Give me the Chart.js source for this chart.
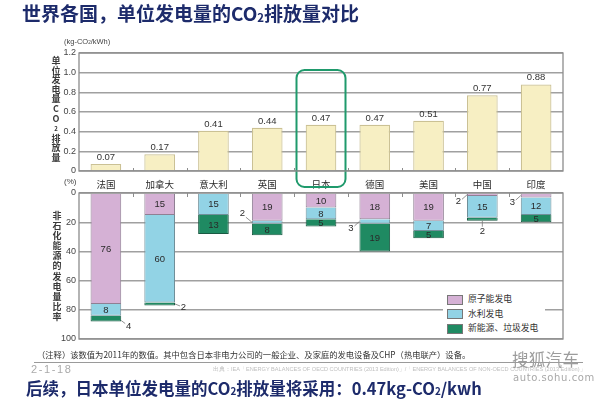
<!DOCTYPE html>
<html>
<head>
<meta charset="utf-8">
<script src="https://cdn.jsdelivr.net/npm/chart.js@4.4.0/dist/chart.umd.min.js"></script>
<style>
  body { margin: 0; width: 600px; height: 401px; position: relative; overflow: hidden; background: #fff;
         font-family: "Noto Sans CJK SC", sans-serif; }
  canvas { position: absolute; left: 0; top: 0; }
  .abs { position: absolute; white-space: nowrap; }
  .title { left: 22px; top: 1px; font-size: 19px; font-weight: bold; color: #1d2b6b; line-height: 24px; }
  .title2 { left: 26px; top: 377px; font-size: 16.5px; font-weight: bold; color: #1d2b6b; line-height: 22px; }
  sub { font-size: 0.6em; vertical-align: -0.05em; }
  .unit { left: 64px; top: 37px; font-size: 7.5px; color: #444; font-family: "Liberation Sans", sans-serif; }
  .pct { left: 64px; top: 177px; font-size: 8px; color: #444; font-family: "Liberation Sans", sans-serif; }
  .vlabel { width: 12px; text-align: center; font-size: 9px; font-weight: bold; color: #3a3a3a; }
  .note { left: 37px; top: 348px; font-size: 8.3px; color: #333; }
  .rule { left: 34px; top: 362px; width: 549px; height: 1px; background: #9a9a9a; }
  .page { left: 31px; top: 363px; font-size: 11px; color: #aaa; letter-spacing: 1.6px; font-family: "Liberation Sans", sans-serif; }
  .src { left: 213px; top: 366px; font-size: 5.6px; color: #c0c0c0; font-family: "Liberation Sans", sans-serif; }
  .wm1 { left: 512px; top: 347px; font-size: 16.5px; color: #9c9c9c; letter-spacing: 0.3px; }
  .wm2 { left: 513px; top: 372px; font-size: 10px; color: #a8a8a8; letter-spacing: 0.6px; font-family: "DejaVu Sans", sans-serif; }
  #legend { left: 443px; top: 290px; width: 102px; height: 46px; background: #fff; }
  .li { position: absolute; left: 0; height: 12px; font-size: 8.8px; color: #333; line-height: 12px; }
  .sw { position: absolute; left: 4px; top: 1.5px; width: 14px; height: 8px; border: 1px solid #777; }
  .lt { position: absolute; left: 25px; top: 0; }
</style>
</head>
<body>
<canvas id="topChart" width="600" height="401"></canvas>
<canvas id="shareChart" width="600" height="401"></canvas>

<div class="abs title">世界各国，单位发电量的CO<sub>2</sub>排放量对比</div>
<div class="abs unit">(kg-CO<sub>2</sub>/kWh)</div>
<div class="abs pct">(%)</div>
<div class="abs vlabel" id="vTop" style="left:50px; top:56px; line-height:9.6px;"></div>
<div class="abs vlabel" id="vBottom" style="left:51px; top:211px; line-height:10.1px;"></div>
<div class="abs" id="legend"></div>
<div class="abs note">（注释）该数值为2011年的数值。其中包含日本非电力公司的一般企业、及家庭的发电设备及CHP（热电联产）设备。</div>
<div class="abs rule"></div>
<div class="abs page">2-1-18</div>
<div class="abs src">出典：IEA「ENERGY BALANCES OF OECD COUNTRIES (2013 Edition)」/「ENERGY BALANCES OF NON-OECD COUNTRIES (2013 Edition)」</div>
<div class="abs wm1">搜狐汽车</div>
<div class="abs wm2">auto.sohu.com</div>
<div class="abs title2">后续，日本单位发电量的CO<sub>2</sub>排放量将采用：0.47kg-CO<sub>2</sub>/kwh</div>

<script>
var countries = ['法国', '加拿大', '意大利', '英国', '日本', '德国', '美国', '中国', '印度'];
var co2PerKwh = [0.07, 0.17, 0.41, 0.44, 0.47, 0.47, 0.51, 0.77, 0.88];
var co2Ticks = [0, 0.2, 0.4, 0.6, 0.8, 1.0, 1.2];

var seriesNames = ['原子能发电', '水利发电', '新能源、垃圾发电'];
var nuclearShare = [76, 15, 0, 19, 10, 18, 19, 2, 3];
var hydroShare = [8, 60, 15, 2, 8, 3, 7, 15, 12];
var renewShare = [4, 2, 13, 8, 5, 19, 5, 2, 5];
var shareTicks = [0, 20, 40, 60, 80, 100];

var highlight = '日本';

// small segments whose number sits outside the bar, with a leader line
var callouts = {
  '2-0': 'lowerRight', '2-1': 'right', '1-3': 'upperLeft', '1-5': 'lowerLeft',
  '0-7': 'lowerLeft', '2-7': 'below', '0-8': 'lowerLeft'
};

var FONT_CJK = '"Noto Sans CJK SC", sans-serif';
var FONT_NUM = '"Liberation Sans", Arial, sans-serif';

// vertical axis titles, one glyph per line
function stackChars(el, str) {
  el.innerHTML = str.split('').map(function (c) {
    return c === '₂' ? '<span style="font-size:6px">2</span>' : c;
  }).join('<br>');
}
stackChars(document.getElementById('vTop'), '单位发电量CO₂排放量');
stackChars(document.getElementById('vBottom'), '非石化能源的发电量比率');

var frame = {
  id: 'frame',
  afterDraw: function (chart, args, opts) {
    var ctx = chart.ctx, a = chart.chartArea, x = chart.scales.x;
    ctx.save();
    ctx.strokeStyle = '#8c8c8c';
    ctx.lineWidth = 1;
    for (var i = 0; i < countries.length - 1; i++) {
      var bx = Math.round((x.getPixelForValue(i) + x.getPixelForValue(i + 1)) / 2) + 0.5;
      ctx.beginPath();
      if (opts.side === 'bottom') { ctx.moveTo(bx, a.bottom); ctx.lineTo(bx, a.bottom - 3); }
      else { ctx.moveTo(bx, a.top); ctx.lineTo(bx, a.top + 4); }
      ctx.stroke();
    }
    ctx.lineWidth = 1.3;
    ctx.strokeRect(a.left, a.top, a.right - a.left, a.bottom - a.top);
    ctx.restore();
  }
};

var topValueLabels = {
  id: 'topValueLabels',
  afterDatasetsDraw: function (chart) {
    var ctx = chart.ctx;
    ctx.save();
    ctx.font = '9.5px ' + FONT_NUM;
    ctx.fillStyle = '#333';
    ctx.textAlign = 'center';
    ctx.textBaseline = 'bottom';
    chart.getDatasetMeta(0).data.forEach(function (bar, i) {
      ctx.fillText(co2PerKwh[i].toFixed(2), bar.x, bar.y - 2);
    });
    // rounded box round the highlighted country
    var cx = chart.scales.x.getPixelForValue(countries.indexOf(highlight));
    var l = cx - 24.5, t = 70, w = 49, h = 117, r = 8;
    ctx.strokeStyle = '#1f9a6c';
    ctx.lineWidth = 2;
    ctx.beginPath();
    ctx.moveTo(l + r, t);
    ctx.arcTo(l + w, t, l + w, t + h, r);
    ctx.arcTo(l + w, t + h, l, t + h, r);
    ctx.arcTo(l, t + h, l, t, r);
    ctx.arcTo(l, t, l + w, t, r);
    ctx.closePath();
    ctx.stroke();
    ctx.restore();
  }
};

var shareLabels = {
  id: 'shareLabels',
  afterDatasetsDraw: function (chart) {
    var ctx = chart.ctx;
    ctx.save();
    ctx.font = '9.5px ' + FONT_NUM;
    ctx.fillStyle = '#2a2a2a';
    ctx.strokeStyle = '#777';
    ctx.lineWidth = 0.8;
    ctx.textAlign = 'center';
    ctx.textBaseline = 'middle';
    chart.data.datasets.forEach(function (ds, d) {
      chart.getDatasetMeta(d).data.forEach(function (bar, i) {
        var v = ds.data[i];
        if (!v) return;
        var top = Math.min(bar.y, bar.base), bot = Math.max(bar.y, bar.base);
        var cy = (top + bot) / 2, half = bar.width / 2;
        var c = callouts[d + '-' + i];
        if (!c) { ctx.fillText(String(v), bar.x, cy + 0.5); return; }
        var ax, ay, lx, ly, tx, ty;
        if (c === 'lowerLeft') { ax = bar.x - half; ay = cy; lx = ax - 5; ly = ay + 4.5; tx = ax - 8.5; ty = ay + 7; }
        else if (c === 'upperLeft') { ax = bar.x - half; ay = cy; lx = ax - 6; ly = ay - 5; tx = ax - 9.5; ty = ay - 8.5; }
        else if (c === 'lowerRight') { ax = bar.x + half; ay = cy + 2; lx = ax + 4; ly = ay + 3; tx = ax + 7.5; ty = ay + 6; }
        else if (c === 'right') { ax = bar.x + half; ay = cy; lx = ax + 5; ly = ay + 2; tx = ax + 8.5; ty = ay + 3; }
        else { ax = bar.x; ay = bot; lx = ax; ly = ay + 6; tx = ax; ty = ay + 11; }
        ctx.beginPath();
        ctx.moveTo(ax, ay);
        ctx.lineTo(lx, ly);
        ctx.stroke();
        ctx.fillText(String(v), tx, ty);
      });
    });
    ctx.restore();
  }
};

new Chart(document.getElementById('topChart').getContext('2d'), {
  type: 'bar',
  data: {
    labels: countries,
    datasets: [{
      data: co2PerKwh,
      backgroundColor: '#f7efc3',
      borderColor: '#cbc194',
      borderWidth: 1.2,
      barPercentage: 0.57,
      categoryPercentage: 1
    }]
  },
  options: {
    responsive: false,
    animation: false,
    events: [],
    layout: { padding: { left: 0, right: 37, top: 53, bottom: 209 } },
    plugins: {
      legend: { display: false },
      tooltip: { enabled: false },
      frame: { side: 'bottom' }
    },
    scales: {
      x: {
        grid: { display: false },
        border: { display: false },
        ticks: { color: '#2a2a2a', font: { size: 9.5, family: FONT_CJK }, padding: 0, maxRotation: 0 },
        afterFit: function (s) { s.height = 21; }
      },
      y: {
        min: 0,
        max: 1.2,
        afterBuildTicks: function (s) { s.ticks = co2Ticks.map(function (v) { return { value: v }; }); },
        ticks: {
          color: '#444',
          font: { size: 9, family: FONT_NUM },
          padding: 3,
          callback: function (v) { return v === 0 ? '0' : Number(v).toFixed(1); }
        },
        grid: { color: '#a0a0a0', lineWidth: 1.4, drawTicks: false },
        border: { display: false },
        afterFit: function (s) { s.width = 79; }
      }
    }
  },
  plugins: [frame, topValueLabels]
});

var shareChart = new Chart(document.getElementById('shareChart').getContext('2d'), {
  type: 'bar',
  data: {
    labels: countries,
    datasets: [
      { label: seriesNames[0], data: nuclearShare, backgroundColor: '#d5b1d5', borderColor: '#8f7f93' },
      { label: seriesNames[1], data: hydroShare, backgroundColor: '#92d3e5', borderColor: '#6f8f99' },
      { label: seriesNames[2], data: renewShare, backgroundColor: '#1f8a62', borderColor: '#1a5a43' }
    ].map(function (ds) {
      ds.borderWidth = 1;
      ds.barPercentage = 0.57;
      ds.categoryPercentage = 1;
      return ds;
    })
  },
  options: {
    responsive: false,
    animation: false,
    events: [],
    layout: { padding: { left: 0, right: 37, top: 193, bottom: 62 } },
    plugins: {
      legend: { display: false },
      tooltip: { enabled: false },
      frame: { side: 'top' }
    },
    scales: {
      x: { stacked: true, display: false },
      y: {
        stacked: true,
        reverse: true,
        min: 0,
        max: 100,
        afterBuildTicks: function (s) { s.ticks = shareTicks.map(function (v) { return { value: v }; }); },
        ticks: { color: '#444', font: { size: 9, family: FONT_NUM }, padding: 3 },
        grid: { color: '#a0a0a0', lineWidth: 1.4, drawTicks: false },
        border: { display: false },
        afterFit: function (s) { s.width = 79; }
      }
    }
  },
  plugins: [frame, shareLabels]
});

// legend box built from the share datasets
var legend = document.getElementById('legend');
shareChart.data.datasets.forEach(function (ds, i) {
  var row = document.createElement('div');
  row.className = 'li';
  row.style.top = (3 + i * 14.5) + 'px';
  row.innerHTML = '<span class="sw" style="background:' + ds.backgroundColor + '"></span><span class="lt">' + ds.label + '</span>';
  legend.appendChild(row);
});
</script>
</body>
</html>
